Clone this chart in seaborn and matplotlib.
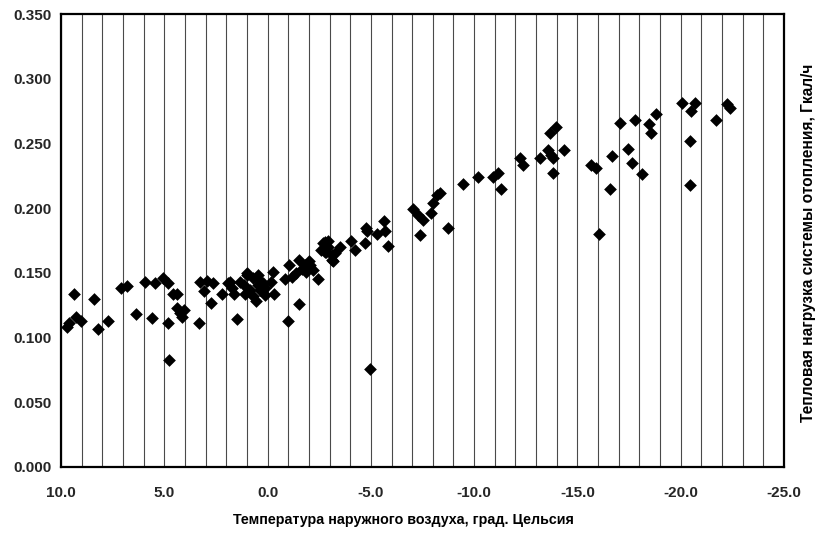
import matplotlib
matplotlib.use("Agg")
import matplotlib.pyplot as plt
import seaborn as sns
import pandas as pd
import numpy as np
from matplotlib.ticker import MultipleLocator, FormatStrFormatter

# ---- data ----
temperature = [
    9.72, 9.61, 9.37, 9.29, 9.02, 8.42, 8.20, 7.73, 7.10, 6.82,
    6.39, 5.94, 5.60, 5.47, 5.05, 4.81, 4.81, 4.78, 4.57, 4.40,
    4.40, 4.24, 4.16, 4.05, 3.31, 3.28, 3.08, 2.95, 2.76, 2.66,
    2.23,
    1.90, 1.82, 1.71, 1.62, 1.50, 1.35, 1.13, 1.02, 0.99, 1.10,
    0.86, 0.70, 0.70, 0.57, 0.45, 0.45, 0.37, 0.30, 0.21, 0.14,
    0.13, -0.16, -0.24, -0.30,
    -0.84, -1.00, -1.02, -1.20, -1.36, -1.52, -1.53, -1.65, -1.80, -1.88,
    -2.01, -2.05, -2.18, -2.42, -2.61, -2.69, -2.77, -2.77, -2.85, -2.93,
    -2.93, -3.10, -3.10, -3.17, -3.26, -3.50, -4.05, -4.25, -4.70, -4.75,
    -4.79, -4.95, -5.30, -5.63, -5.67, -5.84,
    -7.05, -7.29, -7.53, -7.37, -7.93, -8.01, -8.18, -8.34, -8.74, -9.47,
    -10.19,
    -10.91, -11.16, -11.32, -12.20, -12.37, -13.20, -13.58, -13.74, -13.82, -13.82,
    -13.66, -13.95, -14.33, -15.67, -15.91, -16.03, -16.60, -16.67, -17.04, -17.45,
    -17.66, -17.77, -18.14, -18.46, -18.58, -18.82,
    -20.08, -20.43, -20.43, -20.51, -20.67, -21.69, -22.24, -22.37,
]
heat_load = [
    0.108, 0.111, 0.134, 0.116, 0.113, 0.130, 0.107, 0.113, 0.138, 0.140,
    0.118, 0.143, 0.115, 0.142, 0.146, 0.142, 0.111, 0.083, 0.134, 0.134,
    0.123, 0.119, 0.116, 0.121, 0.111, 0.143, 0.136, 0.144, 0.127, 0.142,
    0.134,
    0.142, 0.143, 0.138, 0.134, 0.114, 0.143, 0.141, 0.150, 0.148, 0.134,
    0.137, 0.132, 0.146, 0.128, 0.141, 0.148, 0.137, 0.143, 0.142, 0.138,
    0.133, 0.143, 0.151, 0.134,
    0.145, 0.113, 0.156, 0.147, 0.150, 0.160, 0.126, 0.153, 0.156, 0.151,
    0.159, 0.156, 0.152, 0.145, 0.168, 0.173, 0.174, 0.166, 0.166, 0.170,
    0.175, 0.164, 0.160, 0.159, 0.165, 0.170, 0.175, 0.168, 0.173, 0.1845,
    0.182, 0.076, 0.180, 0.190, 0.182, 0.171,
    0.199, 0.195, 0.191, 0.179, 0.196, 0.204, 0.210, 0.2115, 0.1845, 0.219,
    0.224,
    0.224, 0.227, 0.215, 0.239, 0.233, 0.239, 0.245, 0.241, 0.239, 0.227,
    0.258, 0.263, 0.245, 0.233, 0.231, 0.180, 0.215, 0.240, 0.266, 0.246,
    0.235, 0.268, 0.226, 0.265, 0.258, 0.273,
    0.2815, 0.252, 0.218, 0.275, 0.281, 0.268, 0.2805, 0.277,
]

x_label = "Температура наружного воздуха, град. Цельсия"
y_label = "Тепловая нагрузка системы отопления, Гкал/ч"

df = pd.DataFrame({"t": temperature, "q": heat_load})

sns.set_theme(style="white")
plt.rcParams["font.family"] = ["Liberation Sans", "DejaVu Sans"]

fig = plt.figure(figsize=(8.21, 5.34), dpi=100)
ax = fig.add_axes([61 / 821, 1 - 467 / 534, (784 - 61) / 821, (467 - 14) / 534])

sns.scatterplot(data=df, x="t", y="q", ax=ax, marker="D", color="black",
                s=42, edgecolor="black", linewidth=0, legend=False, zorder=3)

ax.set_xlim(10, -25)
ax.set_ylim(0, 0.35)
ax.xaxis.set_major_locator(MultipleLocator(5))
ax.xaxis.set_minor_locator(MultipleLocator(1))
ax.yaxis.set_major_locator(MultipleLocator(0.05))
ax.xaxis.set_major_formatter(FormatStrFormatter("%.1f"))
ax.yaxis.set_major_formatter(FormatStrFormatter("%.3f"))

ax.grid(False)
ax.grid(True, axis="x", which="both", color="#4a4a4a", linewidth=0.8, zorder=1)
ax.set_axisbelow(True)

for sp in ax.spines.values():
    sp.set_visible(True)
    sp.set_color("black")
    sp.set_linewidth(1.6)

ax.tick_params(axis="both", which="major", direction="out", length=3, width=1,
               color="black", labelsize=11, pad=4)
ax.tick_params(axis="x", which="major", pad=11)
ax.tick_params(axis="x", which="minor", length=0)
for lbl in ax.get_xticklabels() + ax.get_yticklabels():
    lbl.set_fontweight("bold")

ax.set_xlabel("")
ax.set_ylabel("")
fig.text(403 / 821, 1 - 520 / 534, x_label, ha="center", va="center",
         fontsize=10.3, fontweight="bold", color="black")
fig.text(808 / 821, 1 - 243 / 534, y_label, ha="center", va="center",
         rotation=90, fontsize=11.2, fontweight="bold", color="black")

fig.savefig("out.png", dpi=100, facecolor="white")
